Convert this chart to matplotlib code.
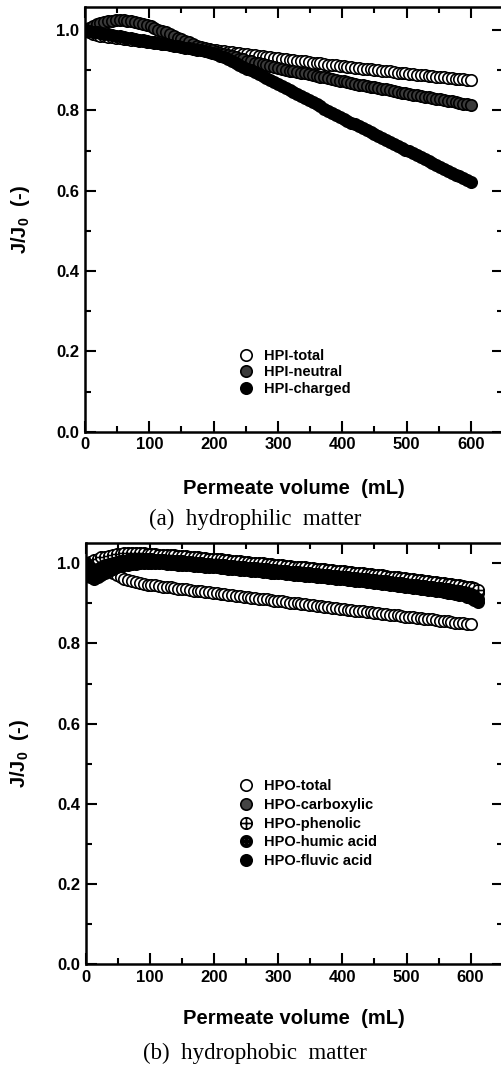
import numpy as np
import matplotlib
matplotlib.use("Agg")
import matplotlib.pyplot as plt
from matplotlib.path import Path

plt.rcParams['font.family'] = ['Liberation Sans', 'DejaVu Sans']
plt.rcParams['mathtext.fontset'] = 'custom'
plt.rcParams['mathtext.bf'] = 'Liberation Sans:bold'
plt.rcParams['mathtext.rm'] = 'Liberation Sans'

# ---------------- data: (a) hydrophilic matter (every 6 mL) ----------------
vol_a = list(range(0, 601, 6))
hpi_total = [
    1.000, 0.995, 0.991, 0.988, 0.986, 0.984, 0.983, 0.982, 0.980, 0.979,
    0.978, 0.977, 0.976, 0.974, 0.973, 0.972, 0.971, 0.970, 0.968, 0.967,
    0.966, 0.965, 0.964, 0.962, 0.961, 0.960, 0.959, 0.958, 0.956, 0.955,
    0.954, 0.953, 0.952, 0.950, 0.949, 0.948, 0.947, 0.946, 0.944, 0.943,
    0.942, 0.941, 0.940, 0.938, 0.937, 0.936, 0.935, 0.934, 0.932, 0.931,
    0.930, 0.929, 0.928, 0.926, 0.925, 0.924, 0.923, 0.922, 0.920, 0.919,
    0.918, 0.917, 0.916, 0.914, 0.913, 0.912, 0.911, 0.910, 0.908, 0.907,
    0.906, 0.905, 0.904, 0.903, 0.902, 0.901, 0.900, 0.899, 0.898, 0.897,
    0.895, 0.894, 0.893, 0.892, 0.891, 0.890, 0.889, 0.888, 0.887, 0.886,
    0.885, 0.884, 0.883, 0.882, 0.881, 0.880, 0.879, 0.878, 0.877, 0.876,
    0.875]
hpi_neutral = [
    1.000, 1.005, 1.010, 1.014, 1.017, 1.020, 1.022, 1.023, 1.024, 1.024,
    1.024, 1.023, 1.022, 1.020, 1.018, 1.015, 1.012, 1.009, 1.005, 1.001,
    0.998, 0.994, 0.990, 0.985, 0.981, 0.977, 0.973, 0.969, 0.965, 0.961,
    0.958, 0.955, 0.952, 0.949, 0.946, 0.943, 0.940, 0.937, 0.935, 0.932,
    0.929, 0.927, 0.924, 0.922, 0.919, 0.917, 0.915, 0.912, 0.910, 0.907,
    0.905, 0.903, 0.901, 0.899, 0.897, 0.896, 0.894, 0.892, 0.890, 0.888,
    0.886, 0.884, 0.882, 0.880, 0.878, 0.876, 0.874, 0.872, 0.870, 0.868,
    0.866, 0.864, 0.863, 0.861, 0.859, 0.857, 0.855, 0.853, 0.852, 0.850,
    0.848, 0.846, 0.844, 0.843, 0.841, 0.839, 0.837, 0.835, 0.834, 0.832,
    0.831, 0.829, 0.827, 0.825, 0.824, 0.822, 0.820, 0.818, 0.816, 0.815,
    0.813]
hpi_charged = [
    1.000, 0.998, 0.996, 0.995, 0.993, 0.991, 0.989, 0.987, 0.986, 0.984,
    0.982, 0.981, 0.979, 0.977, 0.976, 0.975, 0.973, 0.971, 0.970, 0.968,
    0.966, 0.965, 0.963, 0.961, 0.960, 0.958, 0.956, 0.954, 0.953, 0.951,
    0.949, 0.947, 0.945, 0.943, 0.940, 0.936, 0.932, 0.928, 0.923, 0.918,
    0.914, 0.909, 0.904, 0.900, 0.895, 0.890, 0.885, 0.880, 0.876, 0.871,
    0.866, 0.861, 0.856, 0.851, 0.845, 0.840, 0.835, 0.830, 0.825, 0.820,
    0.815, 0.810, 0.804, 0.799, 0.794, 0.789, 0.784, 0.779, 0.774, 0.769,
    0.765, 0.760, 0.755, 0.750, 0.745, 0.741, 0.736, 0.731, 0.726, 0.722,
    0.717, 0.712, 0.707, 0.702, 0.698, 0.693, 0.688, 0.683, 0.679, 0.674,
    0.669, 0.664, 0.660, 0.655, 0.650, 0.645, 0.640, 0.636, 0.631, 0.626,
    0.621]

# ---------------- data: (b) hydrophobic matter (every 6 mL) ----------------
vol_b_total = list(range(0, 601, 6))
vol_b = list(range(0, 613, 6))
hpo_total = [
    1.000, 1.001, 1.000, 0.997, 0.992, 0.986, 0.980, 0.975, 0.970, 0.966,
    0.962, 0.959, 0.956, 0.954, 0.951, 0.949, 0.947, 0.946, 0.945, 0.943,
    0.942, 0.941, 0.940, 0.938, 0.937, 0.936, 0.935, 0.934, 0.932, 0.931,
    0.930, 0.929, 0.928, 0.926, 0.925, 0.924, 0.923, 0.922, 0.920, 0.919,
    0.918, 0.917, 0.916, 0.914, 0.913, 0.912, 0.911, 0.910, 0.908, 0.907,
    0.906, 0.905, 0.904, 0.902, 0.901, 0.900, 0.899, 0.898, 0.896, 0.895,
    0.894, 0.893, 0.892, 0.890, 0.889, 0.888, 0.887, 0.886, 0.884, 0.883,
    0.882, 0.881, 0.880, 0.879, 0.878, 0.877, 0.875, 0.874, 0.873, 0.872,
    0.871, 0.870, 0.869, 0.867, 0.866, 0.865, 0.864, 0.863, 0.862, 0.861,
    0.860, 0.858, 0.857, 0.856, 0.855, 0.854, 0.852, 0.851, 0.850, 0.849,
    0.848]
hpo_carboxylic = [
    1.000, 1.001, 1.003, 1.006, 1.008, 1.010, 1.012, 1.014, 1.015, 1.016,
    1.017, 1.018, 1.019, 1.019, 1.019, 1.018, 1.017, 1.017, 1.016, 1.015,
    1.015, 1.014, 1.014, 1.013, 1.012, 1.012, 1.011, 1.010, 1.009, 1.008,
    1.007, 1.006, 1.005, 1.004, 1.004, 1.003, 1.002, 1.001, 1.000, 0.999,
    0.998, 0.997, 0.996, 0.995, 0.995, 0.994, 0.993, 0.992, 0.991, 0.990,
    0.989, 0.988, 0.987, 0.986, 0.985, 0.985, 0.984, 0.983, 0.982, 0.981,
    0.980, 0.979, 0.978, 0.977, 0.976, 0.975, 0.974, 0.973, 0.972, 0.971,
    0.970, 0.969, 0.968, 0.967, 0.966, 0.965, 0.964, 0.963, 0.962, 0.960,
    0.959, 0.958, 0.957, 0.956, 0.954, 0.953, 0.952, 0.951, 0.950, 0.948,
    0.947, 0.946, 0.945, 0.943, 0.942, 0.941, 0.940, 0.938, 0.937, 0.935,
    0.933, 0.930, 0.925]
hpo_phenolic = [
    1.000, 1.004, 1.008, 1.012, 1.015, 1.017, 1.019, 1.021, 1.023, 1.024,
    1.025, 1.026, 1.026, 1.026, 1.026, 1.025, 1.024, 1.024, 1.023, 1.022,
    1.022, 1.021, 1.021, 1.020, 1.019, 1.019, 1.018, 1.017, 1.016, 1.015,
    1.014, 1.013, 1.012, 1.011, 1.011, 1.010, 1.009, 1.008, 1.007, 1.006,
    1.005, 1.004, 1.003, 1.002, 1.002, 1.001, 1.000, 0.999, 0.998, 0.997,
    0.996, 0.995, 0.994, 0.993, 0.992, 0.992, 0.991, 0.990, 0.989, 0.988,
    0.987, 0.986, 0.985, 0.984, 0.983, 0.982, 0.981, 0.980, 0.979, 0.978,
    0.977, 0.976, 0.975, 0.974, 0.973, 0.972, 0.971, 0.970, 0.969, 0.967,
    0.966, 0.965, 0.964, 0.963, 0.961, 0.960, 0.959, 0.958, 0.957, 0.955,
    0.954, 0.953, 0.952, 0.950, 0.949, 0.948, 0.947, 0.945, 0.944, 0.942,
    0.940, 0.938, 0.934]
hpo_humic = [
    1.000, 0.988, 0.984, 0.987, 0.991, 0.995, 0.998, 1.001, 1.003, 1.005,
    1.007, 1.008, 1.009, 1.010, 1.010, 1.010, 1.010, 1.010, 1.009, 1.008,
    1.008, 1.007, 1.007, 1.006, 1.005, 1.005, 1.004, 1.003, 1.002, 1.001,
    1.000, 0.999, 0.998, 0.997, 0.997, 0.996, 0.995, 0.994, 0.993, 0.992,
    0.991, 0.990, 0.989, 0.988, 0.988, 0.987, 0.986, 0.985, 0.984, 0.983,
    0.982, 0.981, 0.980, 0.979, 0.978, 0.978, 0.977, 0.976, 0.975, 0.974,
    0.973, 0.972, 0.971, 0.970, 0.969, 0.968, 0.967, 0.966, 0.965, 0.964,
    0.963, 0.962, 0.961, 0.960, 0.959, 0.958, 0.957, 0.956, 0.955, 0.953,
    0.952, 0.951, 0.950, 0.949, 0.947, 0.946, 0.945, 0.944, 0.943, 0.941,
    0.940, 0.939, 0.938, 0.936, 0.935, 0.934, 0.932, 0.930, 0.928, 0.926,
    0.923, 0.918, 0.912]
hpo_fluvic = [
    1.000, 0.965, 0.962, 0.966, 0.972, 0.977, 0.982, 0.986, 0.990, 0.993,
    0.995, 0.997, 0.998, 0.999, 1.000, 1.001, 1.001, 1.001, 1.001, 1.000,
    1.000, 0.999, 0.999, 0.998, 0.997, 0.997, 0.996, 0.995, 0.994, 0.993,
    0.993, 0.992, 0.991, 0.990, 0.990, 0.989, 0.988, 0.987, 0.986, 0.985,
    0.984, 0.983, 0.983, 0.982, 0.981, 0.980, 0.979, 0.978, 0.977, 0.977,
    0.976, 0.975, 0.974, 0.973, 0.972, 0.971, 0.970, 0.969, 0.969, 0.968,
    0.967, 0.966, 0.965, 0.964, 0.963, 0.962, 0.961, 0.960, 0.959, 0.958,
    0.957, 0.956, 0.955, 0.954, 0.953, 0.951, 0.950, 0.949, 0.948, 0.947,
    0.945, 0.944, 0.943, 0.942, 0.940, 0.939, 0.938, 0.937, 0.935, 0.934,
    0.933, 0.932, 0.930, 0.929, 0.927, 0.926, 0.924, 0.922, 0.920, 0.917,
    0.914, 0.909, 0.903]

labels_a = ['HPI-total', 'HPI-neutral', 'HPI-charged']
labels_b = ['HPO-total', 'HPO-carboxylic', 'HPO-phenolic', 'HPO-humic acid', 'HPO-fluvic acid']
xticks = [0, 100, 200, 300, 400, 500, 600]
yticks = [0.0, 0.2, 0.4, 0.6, 0.8, 1.0]

# ---------------- custom markers ----------------
def ring(r, n=40, cx=0.0, cy=0.0, cw=False):
    t = np.linspace(0, 2 * np.pi, n, endpoint=False)
    if cw:
        t = t[::-1]
    v = np.column_stack([cx + r * np.cos(t), cy + r * np.sin(t)])
    v = np.vstack([v, v[:1]])
    codes = [Path.MOVETO] + [Path.LINETO] * (n - 1) + [Path.CLOSEPOLY]
    return Path(v, codes)

oplus = Path.make_compound_path(
    ring(1.0),
    Path([[-1, 0], [1, 0]], [Path.MOVETO, Path.LINETO]),
    Path([[0, -1], [0, 1]], [Path.MOVETO, Path.LINETO]))
humic_marker = Path.make_compound_path(
    ring(1.0),
    ring(0.2, 16, -0.38, 0.38, cw=True), ring(0.2, 16, 0.38, 0.38, cw=True),
    ring(0.2, 16, -0.38, -0.38, cw=True), ring(0.2, 16, 0.38, -0.38, cw=True))

W, H = 501, 1067
fig = plt.figure(figsize=(W / 100, H / 100), dpi=100)

def px_axes(left, top, right, bottom):
    return fig.add_axes([left / W, 1 - bottom / H, (right - left) / W, (bottom - top) / H])

TICKFS = 12
LABFS = 14.5

def style(ax, ytop, top_px, bottom_px, xlab_px, ylab_px, left_px, width_px):
    ax.set_xlim(0, 650)
    ax.set_ylim(0, ytop)
    ax.set_xticks(xticks)
    ax.set_xticks(list(range(50, 650, 100)), minor=True)
    ax.set_yticks(yticks)
    ax.set_yticks([0.1, 0.3, 0.5, 0.7, 0.9], minor=True)
    ax.set_xticklabels([str(v) for v in xticks], fontsize=TICKFS, fontweight='bold')
    ax.set_yticklabels(['%.1f' % v for v in yticks], fontsize=TICKFS, fontweight='bold')
    ax.tick_params(which='both', direction='in', top=True, right=True, width=1.5)
    ax.tick_params(which='major', length=8, pad=4)
    ax.tick_params(which='minor', length=4)
    for s in ax.spines.values():
        s.set_linewidth(1.8)
    ax.set_xlabel('Permeate volume  (mL)', fontsize=LABFS, fontweight='bold')
    ax.set_ylabel(r'$\mathbf{J/J_0}$  (-)', fontsize=LABFS, fontweight='bold')
    ax.xaxis.label.set_va('center')
    ax.yaxis.label.set_va('center')
    hpx = bottom_px - top_px
    ax.xaxis.set_label_coords((294 - left_px) / width_px, -(xlab_px - bottom_px) / hpx)
    ax.yaxis.set_label_coords(-(left_px - ylab_px) / width_px, 0.5)

MS = 8.2
MEW = 1.2

# ----- panel (a)
L1, R1, T1, B1 = 85, 85 + 650 * 0.6433, 7.3, 431.7
ax1 = px_axes(L1, T1, R1, B1)
style(ax1, 1.0565, T1, B1, 488, 20, L1, R1 - L1)
h1, = ax1.plot(vol_a, hpi_total, 'o', ms=MS, mfc='white', mec='black', mew=MEW)
h2, = ax1.plot(vol_a, hpi_neutral, 'o', ms=MS, mfc='#3a3a3a', mec='black', mew=MEW)
h3, = ax1.plot(vol_a, hpi_charged, 'o', ms=MS, mfc='black', mec='black', mew=MEW)
ax1.legend(handles=[h1, h2, h3], labels=labels_a, loc='upper left',
           bbox_to_anchor=(231 / W, 1 - 342 / H), bbox_transform=fig.transFigure,
           frameon=False, borderpad=0, handlelength=1.0, handletextpad=0.75,
           labelspacing=0.15, prop={'weight': 'bold', 'size': 10.5})

# ----- panel (b)
L2, R2, T2, B2 = 86, 86 + 650 * 0.641, 543.3, 964
ax2 = px_axes(L2, T2, R2, B2)
style(ax2, 1.05, T2, B2, 1019, 20, L2, R2 - L2)
g1, = ax2.plot(vol_b_total, hpo_total, 'o', ms=MS, mfc='white', mec='black', mew=MEW)
g2, = ax2.plot(vol_b, hpo_carboxylic, 'o', ms=MS, mfc='#444444', mec='black', mew=MEW)
g3, = ax2.plot(vol_b, hpo_phenolic, marker=oplus, ls='none', ms=MS, mfc='white', mec='black', mew=MEW)
g4, = ax2.plot(vol_b, hpo_humic, marker=humic_marker, ls='none', ms=MS, mfc='black', mec='black', mew=MEW)
g5, = ax2.plot(vol_b, hpo_fluvic, 'o', ms=MS, mfc='black', mec='black', mew=MEW)
ax2.legend(handles=[g1, g2, g3, g4, g5], labels=labels_b, loc='upper left',
           bbox_to_anchor=(231 / W, 1 - 772 / H), bbox_transform=fig.transFigure,
           frameon=False, borderpad=0, handlelength=1.0, handletextpad=0.75,
           labelspacing=0.32, prop={'weight': 'bold', 'size': 10.5})

# captions
fig.text(255 / W, 1 - 519 / H, '(a)  hydrophilic  matter', ha='center', va='center',
         fontsize=16.5, family='Liberation Serif')
fig.text(255 / W, 1 - 1053 / H, '(b)  hydrophobic  matter', ha='center', va='center',
         fontsize=16.5, family='Liberation Serif')

fig.savefig('out.png', dpi=100)
